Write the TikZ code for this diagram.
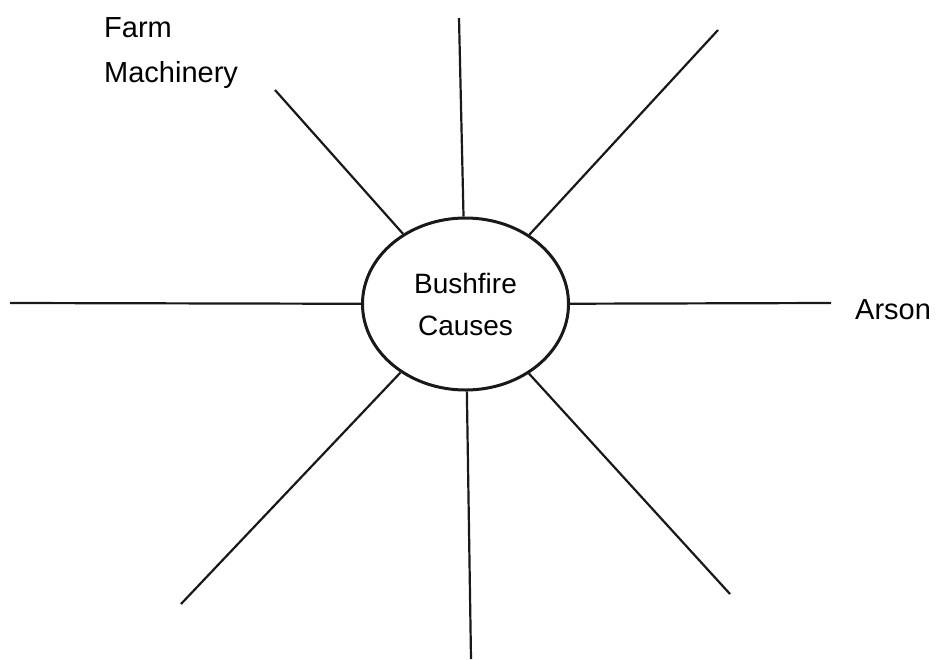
\documentclass[tikz,border=0pt]{standalone}
\usepackage{fontspec}
\setmainfont{Liberation Sans}
\usetikzlibrary{positioning,shapes.geometric}

\begin{document}
\begin{tikzpicture}[
  x=1pt,y=-1pt,
  spoke/.style={line width=2.2pt,black!90},
  hub/.style={ellipse,draw,line width=3pt,black!90,minimum width=206pt,minimum height=172pt,inner sep=0pt,align=center,font=\fontsize{28}{42}\selectfont,text=black},
  tag/.style={align=left,inner sep=0pt,font=\fontsize{29}{45}\selectfont}
]
\useasboundingbox (0,0) rectangle (936,659);

\node[hub] (causes) at (465.5,304) {Bushfire\\Causes};

\coordinate (n) at (459,18);
\coordinate (ne) at (718,30);
\coordinate (e) at (831,303);
\coordinate (se) at (730,594);
\coordinate (s) at (471,659);
\coordinate (sw) at (181,604);
\coordinate (w) at (10,303);
\coordinate (nw) at (275,90);

\draw[spoke] (n) -- (causes);
\draw[spoke] (ne) -- (causes);
\draw[spoke] (e) -- (causes);
\draw[spoke] (se) -- (causes);
\draw[spoke] (s) -- (causes);
\draw[spoke] (sw) -- (causes);
\draw[spoke] (w) -- (causes);
\draw[spoke] (nw) -- (causes);

\node[tag,anchor=north west] (farm) at (104,17) {Farm\\Machinery};
\node[tag,right=24pt of e,yshift=-7pt] (arson) {Arson};
\end{tikzpicture}
\end{document}
